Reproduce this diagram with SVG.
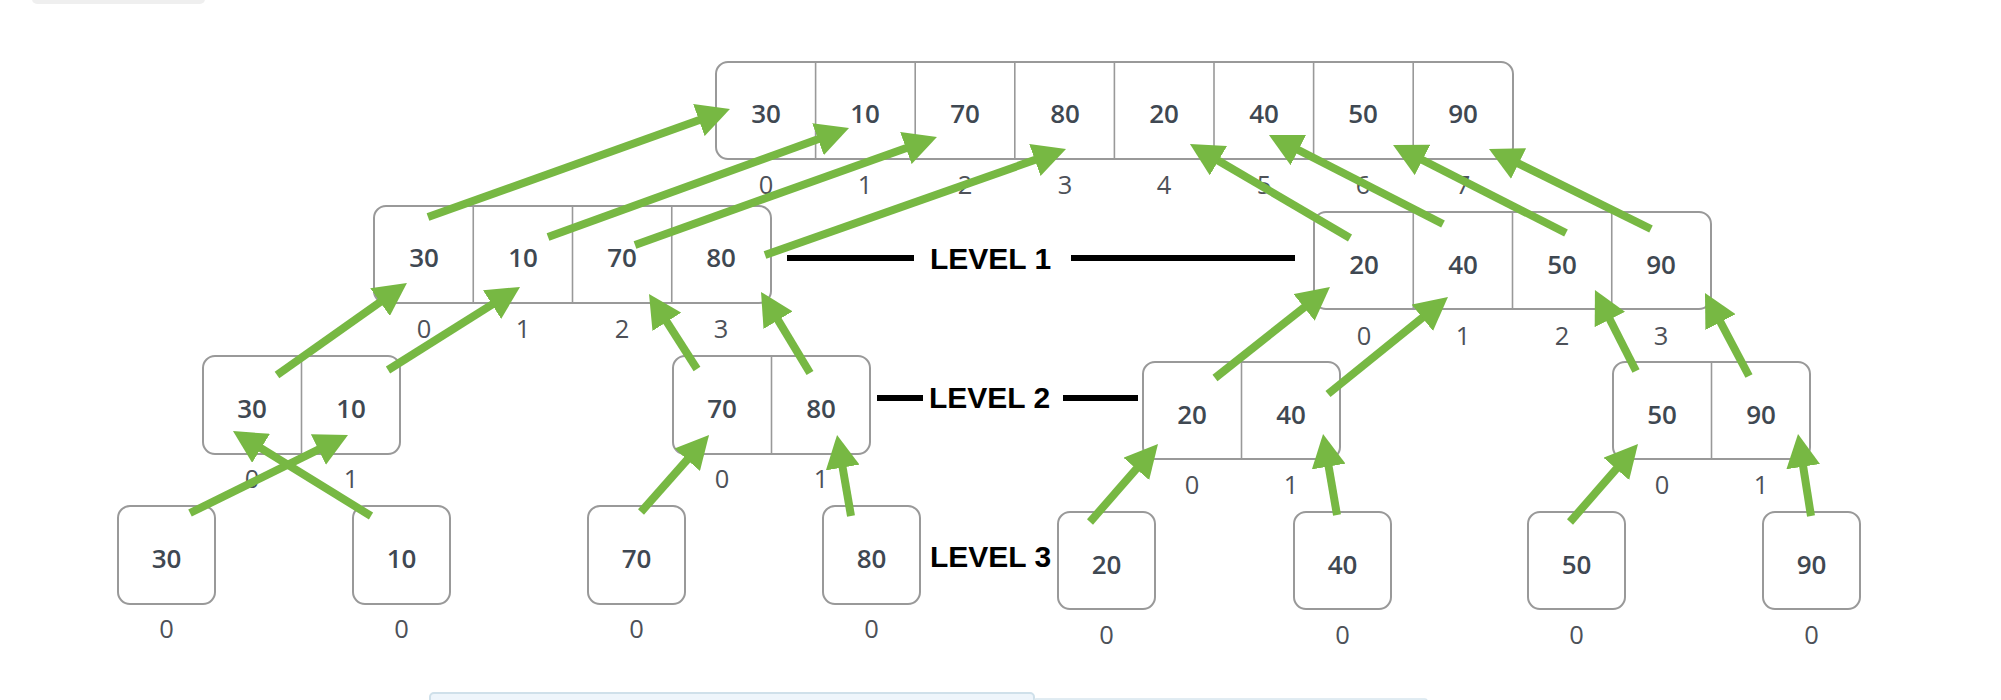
<svg xmlns="http://www.w3.org/2000/svg" width="2001" height="700" viewBox="0 0 2001 700">
<style>
.box{fill:#fff;stroke:#999;stroke-width:2}
.div{stroke:#999;stroke-width:1.6}
.val{font-family:"Open Sans","Noto Sans",sans-serif;font-weight:600;font-size:26px;fill:#3f4852;text-anchor:middle}
.idx{font-family:"Open Sans","Noto Sans",sans-serif;font-weight:400;font-size:25.5px;fill:#4d5158;text-anchor:middle}
.lvl{font-family:"Liberation Sans",Arial,sans-serif;font-weight:700;font-size:30px;fill:#000}
.bar{stroke:#000;stroke-width:6}
.arr{stroke:#77b843;stroke-width:8;fill:none;marker-end:url(#ah)}
</style>
<defs>
<marker id="ah" markerUnits="userSpaceOnUse" markerWidth="33" markerHeight="34" viewBox="0 0 33 34" refX="5" refY="17" orient="auto">
<path d="M0,0 L33,17 L0,34 z" fill="#77b843"/>
</marker>
</defs>
<rect x="32" y="-8" width="173" height="12" rx="5" fill="#efefef"/>
<rect x="430" y="693" width="604" height="20" rx="4" fill="#eef5fb" stroke="#cfe0ea" stroke-width="2"/>
<rect x="1034" y="699" width="393" height="20" rx="2" fill="#f7fbfd" stroke="#d8e6ee" stroke-width="1.5"/>

<g id="top-array">
<rect class="box" x="716" y="62" width="797" height="97" rx="12"/>
<line class="div" x1="815.6" y1="62" x2="815.6" y2="159"/>
<line class="div" x1="915.2" y1="62" x2="915.2" y2="159"/>
<line class="div" x1="1014.8" y1="62" x2="1014.8" y2="159"/>
<line class="div" x1="1114.4" y1="62" x2="1114.4" y2="159"/>
<line class="div" x1="1214" y1="62" x2="1214" y2="159"/>
<line class="div" x1="1313.6" y1="62" x2="1313.6" y2="159"/>
<line class="div" x1="1413.2" y1="62" x2="1413.2" y2="159"/>
<text class="val" x="766" y="123">30</text>
<text class="val" x="865" y="123">10</text>
<text class="val" x="965" y="123">70</text>
<text class="val" x="1065" y="123">80</text>
<text class="val" x="1164" y="123">20</text>
<text class="val" x="1264" y="123">40</text>
<text class="val" x="1363" y="123">50</text>
<text class="val" x="1463" y="123">90</text>
<text class="idx" x="766" y="194">0</text>
<text class="idx" x="865" y="194">1</text>
<text class="idx" x="965" y="194">2</text>
<text class="idx" x="1065" y="194">3</text>
<text class="idx" x="1164" y="194">4</text>
<text class="idx" x="1264" y="194">5</text>
<text class="idx" x="1363" y="194">6</text>
<text class="idx" x="1463" y="194">7</text>
</g>

<g id="l1-left">
<rect class="box" x="374" y="206" width="397" height="97" rx="12"/>
<line class="div" x1="473.25" y1="206" x2="473.25" y2="303"/>
<line class="div" x1="572.5" y1="206" x2="572.5" y2="303"/>
<line class="div" x1="671.75" y1="206" x2="671.75" y2="303"/>
<text class="val" x="424" y="267">30</text>
<text class="val" x="523" y="267">10</text>
<text class="val" x="622" y="267">70</text>
<text class="val" x="721" y="267">80</text>
<text class="idx" x="424" y="338">0</text>
<text class="idx" x="523" y="338">1</text>
<text class="idx" x="622" y="338">2</text>
<text class="idx" x="721" y="338">3</text>
</g>

<g id="l1-right">
<rect class="box" x="1314" y="212" width="397" height="97" rx="12"/>
<line class="div" x1="1413.25" y1="212" x2="1413.25" y2="309"/>
<line class="div" x1="1512.5" y1="212" x2="1512.5" y2="309"/>
<line class="div" x1="1611.75" y1="212" x2="1611.75" y2="309"/>
<text class="val" x="1364" y="274">20</text>
<text class="val" x="1463" y="274">40</text>
<text class="val" x="1562" y="274">50</text>
<text class="val" x="1661" y="274">90</text>
<text class="idx" x="1364" y="345">0</text>
<text class="idx" x="1463" y="345">1</text>
<text class="idx" x="1562" y="345">2</text>
<text class="idx" x="1661" y="345">3</text>
</g>

<g id="l2-a">
<rect class="box" x="203" y="356" width="197" height="98" rx="12"/>
<line class="div" x1="301.5" y1="356" x2="301.5" y2="454"/>
<text class="val" x="252" y="418">30</text>
<text class="val" x="351" y="418">10</text>
<text class="idx" x="252" y="488">0</text>
<text class="idx" x="351" y="488">1</text>
</g>
<g id="l2-b">
<rect class="box" x="673" y="356" width="197" height="98" rx="12"/>
<line class="div" x1="771.5" y1="356" x2="771.5" y2="454"/>
<text class="val" x="722" y="418">70</text>
<text class="val" x="821" y="418">80</text>
<text class="idx" x="722" y="488">0</text>
<text class="idx" x="821" y="488">1</text>
</g>
<g id="l2-c">
<rect class="box" x="1143" y="362" width="197" height="97" rx="12"/>
<line class="div" x1="1241.5" y1="362" x2="1241.5" y2="459"/>
<text class="val" x="1192" y="424">20</text>
<text class="val" x="1291" y="424">40</text>
<text class="idx" x="1192" y="494">0</text>
<text class="idx" x="1291" y="494">1</text>
</g>
<g id="l2-d">
<rect class="box" x="1613" y="362" width="197" height="97" rx="12"/>
<line class="div" x1="1711.5" y1="362" x2="1711.5" y2="459"/>
<text class="val" x="1662" y="424">50</text>
<text class="val" x="1761" y="424">90</text>
<text class="idx" x="1662" y="494">0</text>
<text class="idx" x="1761" y="494">1</text>
</g>

<g id="l3-30"><rect class="box" x="118" y="506" width="97" height="98" rx="12"/><text class="val" x="166.5" y="568">30</text><text class="idx" x="166.5" y="638">0</text></g>
<g id="l3-10"><rect class="box" x="353" y="506" width="97" height="98" rx="12"/><text class="val" x="401.5" y="568">10</text><text class="idx" x="401.5" y="638">0</text></g>
<g id="l3-70"><rect class="box" x="588" y="506" width="97" height="98" rx="12"/><text class="val" x="636.5" y="568">70</text><text class="idx" x="636.5" y="638">0</text></g>
<g id="l3-80"><rect class="box" x="823" y="506" width="97" height="98" rx="12"/><text class="val" x="871.5" y="568">80</text><text class="idx" x="871.5" y="638">0</text></g>
<g id="l3-20"><rect class="box" x="1058" y="512" width="97" height="97" rx="12"/><text class="val" x="1106.5" y="574">20</text><text class="idx" x="1106.5" y="644">0</text></g>
<g id="l3-40"><rect class="box" x="1294" y="512" width="97" height="97" rx="12"/><text class="val" x="1342.5" y="574">40</text><text class="idx" x="1342.5" y="644">0</text></g>
<g id="l3-50"><rect class="box" x="1528" y="512" width="97" height="97" rx="12"/><text class="val" x="1576.5" y="574">50</text><text class="idx" x="1576.5" y="644">0</text></g>
<g id="l3-90"><rect class="box" x="1763" y="512" width="97" height="97" rx="12"/><text class="val" x="1811.5" y="574">90</text><text class="idx" x="1811.5" y="644">0</text></g>

<g id="level-labels">
<line class="bar" x1="787" y1="258" x2="914" y2="258"/>
<text class="lvl" x="930" y="269">LEVEL 1</text>
<line class="bar" x1="1071" y1="258" x2="1295" y2="258"/>
<line class="bar" x1="877" y1="398" x2="923" y2="398"/>
<text class="lvl" x="929" y="408">LEVEL 2</text>
<line class="bar" x1="1063" y1="398" x2="1138" y2="398"/>
<text class="lvl" x="930" y="567">LEVEL 3</text>
</g>

<g id="connectors">
<line class="arr" x1="428" y1="217" x2="703.6" y2="118.4"/>
<line class="arr" x1="548" y1="237" x2="822.7" y2="137.5"/>
<line class="arr" x1="635" y1="245" x2="910.6" y2="146.4"/>
<line class="arr" x1="765" y1="255" x2="1039.6" y2="158.3"/>
<line class="arr" x1="1350" y1="238" x2="1214.1" y2="158.2"/>
<line class="arr" x1="1443" y1="224" x2="1293.9" y2="147.8"/>
<line class="arr" x1="1566" y1="233" x2="1418" y2="157.7"/>
<line class="arr" x1="1651" y1="229" x2="1514.1" y2="161.4"/>
<line class="arr" x1="277" y1="375" x2="384.1" y2="299.2"/>
<line class="arr" x1="388" y1="370" x2="496.3" y2="301.9"/>
<line class="arr" x1="697" y1="369" x2="664.1" y2="317.6"/>
<line class="arr" x1="810" y1="373" x2="775.5" y2="315.9"/>
<line class="arr" x1="1215" y1="378" x2="1308" y2="304.4"/>
<line class="arr" x1="1328" y1="394" x2="1426.2" y2="314.6"/>
<line class="arr" x1="1636" y1="371" x2="1607.6" y2="315"/>
<line class="arr" x1="1749" y1="376" x2="1718.1" y2="317.7"/>
<line class="arr" x1="190" y1="513" x2="322.9" y2="447.4"/>
<line class="arr" x1="371" y1="516" x2="256.8" y2="445.7"/>
<line class="arr" x1="641" y1="512" x2="690.5" y2="456"/>
<line class="arr" x1="851" y1="516" x2="841.8" y2="462.6"/>
<line class="arr" x1="1090" y1="522" x2="1139.6" y2="465.1"/>
<line class="arr" x1="1337" y1="515" x2="1327.8" y2="461.6"/>
<line class="arr" x1="1570" y1="522" x2="1619.6" y2="465.1"/>
<line class="arr" x1="1811" y1="516" x2="1802.4" y2="461.7"/>
</g>
</svg>
